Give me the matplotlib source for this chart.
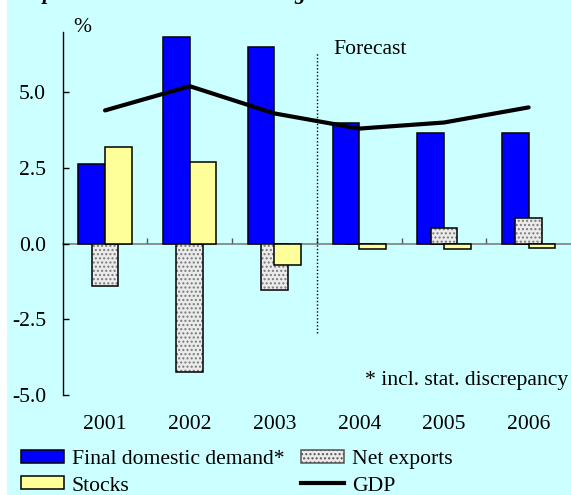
import numpy as np
import matplotlib
matplotlib.use("Agg")
import matplotlib.pyplot as plt
from matplotlib.patches import Patch, Rectangle
from matplotlib.lines import Line2D

# data (% contributions)
years = ["2001", "2002", "2003", "2004", "2005", "2006"]
final_demand = [2.63, 6.84, 6.51, 3.99, 3.67, 3.67]
net_exports = [-1.41, -4.23, -1.52, 0.0, 0.50, 0.86]
stocks = [3.19, 2.68, -0.70, -0.19, -0.18, -0.14]
gdp = [4.4, 5.2, 4.3, 3.8, 4.0, 4.5]
ytick_vals = [-5.0, -2.5, 0.0, 2.5, 5.0]
ytick_labels = ["-5.0", "-2.5", "0.0", "2.5", "5.0"]

BG = "#CCFFFF"
BLUE = "#0000FF"
YELLOW = "#FFFF99"
GREY = "#EBEBEB"
FS = 15.6

plt.rcParams['font.family'] = ['Liberation Serif', 'DejaVu Serif']

W, H = 571, 495
fig = plt.figure(figsize=(W / 100, H / 100), dpi=100)
fig.patch.set_facecolor("white")
fig.add_artist(Rectangle((7 / W, 0), 1 - 7 / W, 1, transform=fig.transFigure,
                         facecolor=BG, edgecolor="none", zorder=-10))

ax = fig.add_axes([62.7 / W, 1 - 395 / H, 1 - 62.7 / W, (395 - 31.7) / H])
ax.set_facecolor("none")

x = np.arange(1, len(years) + 1)
w = 0.315
ax.bar(x - w / 2, final_demand, w, color=BLUE, edgecolor="black", linewidth=1.1, zorder=2)
ax.bar(x, net_exports, w, color=GREY, edgecolor="#7A7A7A", hatch="....", linewidth=0, zorder=3)
ax.bar(x, net_exports, w, fill=False, edgecolor="black", linewidth=1.1, zorder=3)
ax.bar(x + w / 2, stocks, w, color=YELLOW, edgecolor="black", linewidth=1.1, zorder=4)
ax.plot(x, gdp, color="black", lw=3, solid_capstyle="round", solid_joinstyle="round", zorder=5)

# forecast separator
forecast_at = 3.5
ax.vlines(forecast_at, -2.95, 6.3, colors="black", linestyles=(0, (1, 1.5)), lw=1, zorder=1)
ax.text(3.70, 6.4, "Forecast", fontsize=FS, va="center", ha="left")
ax.text(0.73, 7.13, "%", fontsize=FS, va="center", ha="center", clip_on=False)
ax.text(6.47, -4.53, "* incl. stat. discrepancy", fontsize=FS, va="center", ha="right")

ax.set_xlim(0.5, 6.5)
ax.set_ylim(-5, 7)
for s in ["top", "right", "bottom"]:
    ax.spines[s].set_visible(False)
ax.spines["left"].set_linewidth(1.0)
ax.set_yticks(ytick_vals, ytick_labels)
ax.tick_params(axis="y", direction="in", length=4, width=1, pad=12, labelsize=FS)
ax.set_xticks(x, years)
ax.tick_params(axis="x", length=0, pad=14.5, labelsize=FS)

# zero line with category-boundary ticks
zero = ax.secondary_xaxis(5 / 12)
zero.spines["bottom"].set_color("#7F7F7F")
zero.spines["bottom"].set_linewidth(1.2)
zero.set_xticks(np.arange(1.5, 6.5, 1.0))
zero.tick_params(axis="x", direction="in", length=4, width=1, color="#555555",
                 labelbottom=False)

# title, cut off at the top edge as in the source
fig.text(8 / W, 1 + 1 / H, "Graph 1: Contributions to GDP growth and contributions",
         fontsize=FS, style="italic", weight="bold", va="baseline", ha="left")

h_fdd = Patch(facecolor=BLUE, edgecolor="black", linewidth=1.1, label="Final domestic demand*")
h_stk = Patch(facecolor=YELLOW, edgecolor="black", linewidth=1.1, label="Stocks")
h_net = Patch(facecolor=GREY, edgecolor="#555555", hatch="....", linewidth=1.1, label="Net exports")
h_gdp = Line2D([], [], color="black", lw=3, label="GDP")
common = dict(loc="upper left", frameon=False, borderpad=0, borderaxespad=0,
              handlelength=2.0, handleheight=0.55, handletextpad=0.35,
              labelspacing=0.33, fontsize=FS)
fig.legend(handles=[h_fdd, h_stk], bbox_to_anchor=(20.7 / W, 1 - 450 / H), **common)
fig.legend(handles=[h_net, h_gdp], bbox_to_anchor=(301 / W, 1 - 450 / H), **common)

fig.savefig("out.png", dpi=100, facecolor=fig.get_facecolor())
